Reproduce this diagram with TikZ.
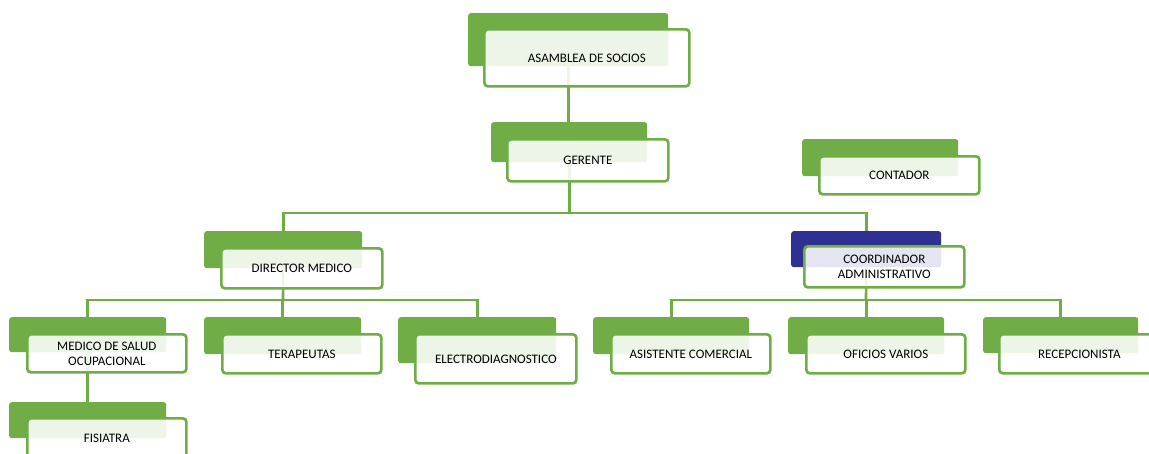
\documentclass[tikz,border=0pt]{standalone}
\usepackage{fontspec}
\setmainfont{Carlito}
\usetikzlibrary{backgrounds}
\definecolor{orggreen}{RGB}{112,173,71}
\definecolor{orgnavy}{RGB}{46,49,146}
\begin{document}
\begin{tikzpicture}[x=1pt,y=-1pt,
    tab/.style={fill=orggreen,rounded corners=2.5pt,anchor=north west,inner sep=0pt},
    card/.style={draw=orggreen,line width=2.7pt,fill=white,fill opacity=0.88,text opacity=1,rounded corners=3.5pt,anchor=north west,inner sep=0pt,align=center,font=\fontsize{13pt}{15pt}\selectfont},
    link/.style={draw=orggreen,line width=2.6pt}]
\useasboundingbox (0,0) rectangle (1149,453);
% top levels
\node[tab,minimum width=200pt,minimum height=53pt] (asam) at (468,13) {};
\node[card,minimum width=205pt,minimum height=57pt] (asamC) at ([xshift=15pt,yshift=-15pt]asam.north west) {ASAMBLEA DE SOCIOS};
\node[tab,minimum width=156pt,minimum height=40pt] (ger) at (491,122) {};
\node[card,minimum width=161pt,minimum height=42pt] (gerC) at ([xshift=15pt,yshift=-16pt]ger.north west) {GERENTE};
\node[tab,minimum width=156pt,minimum height=37pt] (cont) at (802,139) {};
\node[card,minimum width=160pt,minimum height=38pt] (contC) at ([xshift=16pt,yshift=-16pt]cont.north west) {CONTADOR};
\node[tab,minimum width=158pt,minimum height=37pt] (dir) at (204,231) {};
\node[card,minimum width=161pt,minimum height=40pt] (dirC) at ([xshift=16pt,yshift=-16pt]dir.north west) {DIRECTOR MEDICO};
\node[tab,fill=orgnavy,minimum width=150pt,minimum height=36pt] (coord) at (791,231) {};
\node[card,minimum width=160pt,minimum height=41pt] (coordC) at ([xshift=12pt,yshift=-14pt]coord.north west) {COORDINADOR\\ADMINISTRATIVO};
% third level
\node[tab,minimum width=157pt,minimum height=35pt] (med) at (9,317) {};
\node[card,minimum width=159pt,minimum height=38pt] (medC) at ([xshift=17pt,yshift=-16pt]med.north west) {MEDICO DE SALUD\\OCUPACIONAL};
\node[tab,minimum width=157pt,minimum height=37pt] (ter) at (204,317) {};
\node[card,minimum width=159pt,minimum height=39pt] (terC) at ([xshift=17pt,yshift=-16pt]ter.north west) {TERAPEUTAS};
\node[tab,minimum width=158pt,minimum height=46pt] (elec) at (398,317) {};
\node[card,minimum width=161pt,minimum height=49pt] (elecC) at ([xshift=16pt,yshift=-16pt]elec.north west) {ELECTRODIAGNOSTICO};
\node[tab,minimum width=156pt,minimum height=37pt] (asis) at (593,317) {};
\node[card,minimum width=159pt,minimum height=39pt] (asisC) at ([xshift=17pt,yshift=-16pt]asis.north west) {ASISTENTE COMERCIAL};
\node[tab,minimum width=156pt,minimum height=37pt] (ofic) at (788,317) {};
\node[card,minimum width=159pt,minimum height=39pt] (oficC) at ([xshift=17pt,yshift=-16pt]ofic.north west) {OFICIOS VARIOS};
\node[tab,minimum width=155pt,minimum height=36pt] (recep) at (983,317) {};
\node[card,minimum width=160pt,minimum height=39pt] (recepC) at ([xshift=15pt,yshift=-16pt]recep.north west) {RECEPCIONISTA};
\node[tab,minimum width=157pt,minimum height=36pt] (fis) at (9,402) {};
\node[card,minimum width=159pt,minimum height=40pt] (fisC) at ([xshift=17pt,yshift=-15pt]fis.north west) {FISIATRA};
% connectors
\coordinate (j1) at (569,213);
\coordinate (j2) at (283,300);
\coordinate (j3) at (866,300);
\begin{pgfonlayer}{background}
\draw[link] (asam.south) -- (asam.south |- ger.north);
\draw[link] (ger.south) -- (ger.south |- j1);
\draw[link] (dir.north) |- (j1) -| (coord.north);
\draw[link] (dir.south) -- (j2);
\draw[link] (med.north) |- (j2) -| (elec.north);
\draw[link] (ter.north) -- (ter.north |- j2);
\draw[link] (coord.south) -- (j3);
\draw[link] (asis.north) |- (j3) -| (recep.north);
\draw[link] (ofic.north) -- (ofic.north |- j3);
\draw[link] (med.south) -- (fis.north);
\end{pgfonlayer}
\end{tikzpicture}
\end{document}
